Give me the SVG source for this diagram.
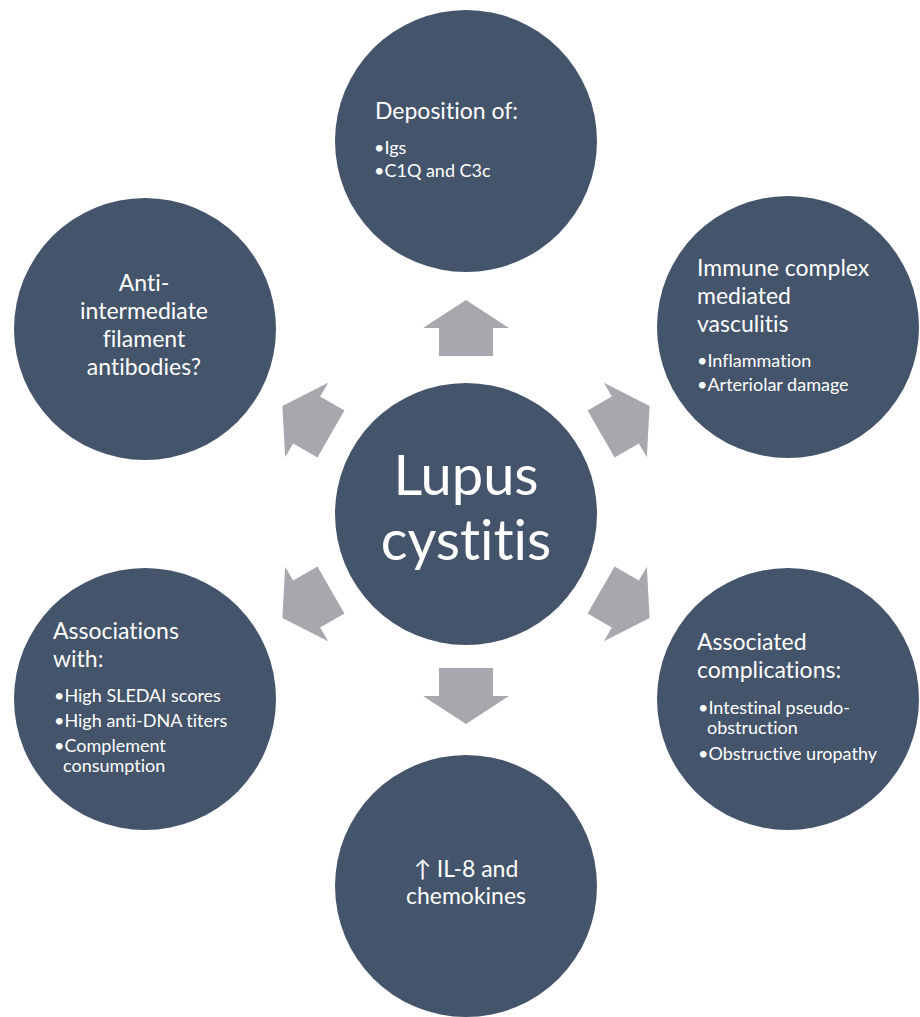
<svg xmlns="http://www.w3.org/2000/svg" width="920" height="1017" viewBox="0 0 920 1017">
<defs>
<style>
.node{fill:#44546a}
.arrow{fill:#a6a8ad}
text{font-family:Lato,"Liberation Sans",sans-serif;fill:#ffffff;font-variant-ligatures:none}
.h{font-size:23px}
.b{font-size:18px}
.c{font-size:56px;text-anchor:middle}
.m{text-anchor:middle}
</style>
<path id="arr" d="M466,300 L509,328 L493,328 L493,356 L439,356 L439,328 L423,328 Z"/>
</defs>
<rect width="920" height="1017" fill="#ffffff"/>
<g id="connectors" class="arrow">
<use href="#arr"/>
<use href="#arr" transform="rotate(60 466 512)"/>
<use href="#arr" transform="rotate(120 466 512)"/>
<use href="#arr" transform="rotate(180 466 512)"/>
<use href="#arr" transform="rotate(240 466 512)"/>
<use href="#arr" transform="rotate(300 466 512)"/>
</g>
<g id="node-center">
<circle class="node" cx="466" cy="514" r="131"/>
<text class="c" x="466" y="495">Lupus</text>
<text class="c" x="466" y="560">cystitis</text>
</g>
<g id="node-top">
<circle class="node" cx="466" cy="141" r="131"/>
<text class="h" x="375" y="119">Deposition of:</text>
<text class="b" x="374" y="154">•Igs</text>
<text class="b" x="374" y="177">•C1Q and C3c</text>
</g>
<g id="node-top-right">
<circle class="node" cx="788" cy="327" r="131"/>
<text class="h" x="697" y="276">Immune complex</text>
<text class="h" x="697" y="304">mediated</text>
<text class="h" x="697" y="332">vasculitis</text>
<text class="b" x="697" y="367">•Inflammation</text>
<text class="b" x="697" y="391">•Arteriolar damage</text>
</g>
<g id="node-bottom-right">
<circle class="node" cx="788" cy="699" r="131"/>
<text class="h" x="697" y="650">Associated</text>
<text class="h" x="697" y="678">complications:</text>
<text class="b" x="698" y="714">•Intestinal pseudo-</text>
<text class="b" x="707" y="734">obstruction</text>
<text class="b" x="698" y="760">•Obstructive uropathy</text>
</g>
<g id="node-bottom">
<circle class="node" cx="466" cy="886" r="131"/>
<text class="h m" x="466" y="877">↑ IL-8 and</text>
<text class="h m" x="466" y="904">chemokines</text>
</g>
<g id="node-bottom-left">
<circle class="node" cx="145" cy="699" r="131"/>
<text class="h" x="53" y="639">Associations</text>
<text class="h" x="53" y="667">with:</text>
<text class="b" x="54" y="702">•High SLEDAI scores</text>
<text class="b" x="54" y="727">•High anti-DNA titers</text>
<text class="b" x="54" y="752">•Complement</text>
<text class="b" x="63" y="772">consumption</text>
</g>
<g id="node-top-left">
<circle class="node" cx="145" cy="329" r="131"/>
<text class="h m" x="144" y="291">Anti-</text>
<text class="h m" x="144" y="319">intermediate</text>
<text class="h m" x="144" y="347">filament</text>
<text class="h m" x="144" y="375">antibodies?</text>
</g>
</svg>
